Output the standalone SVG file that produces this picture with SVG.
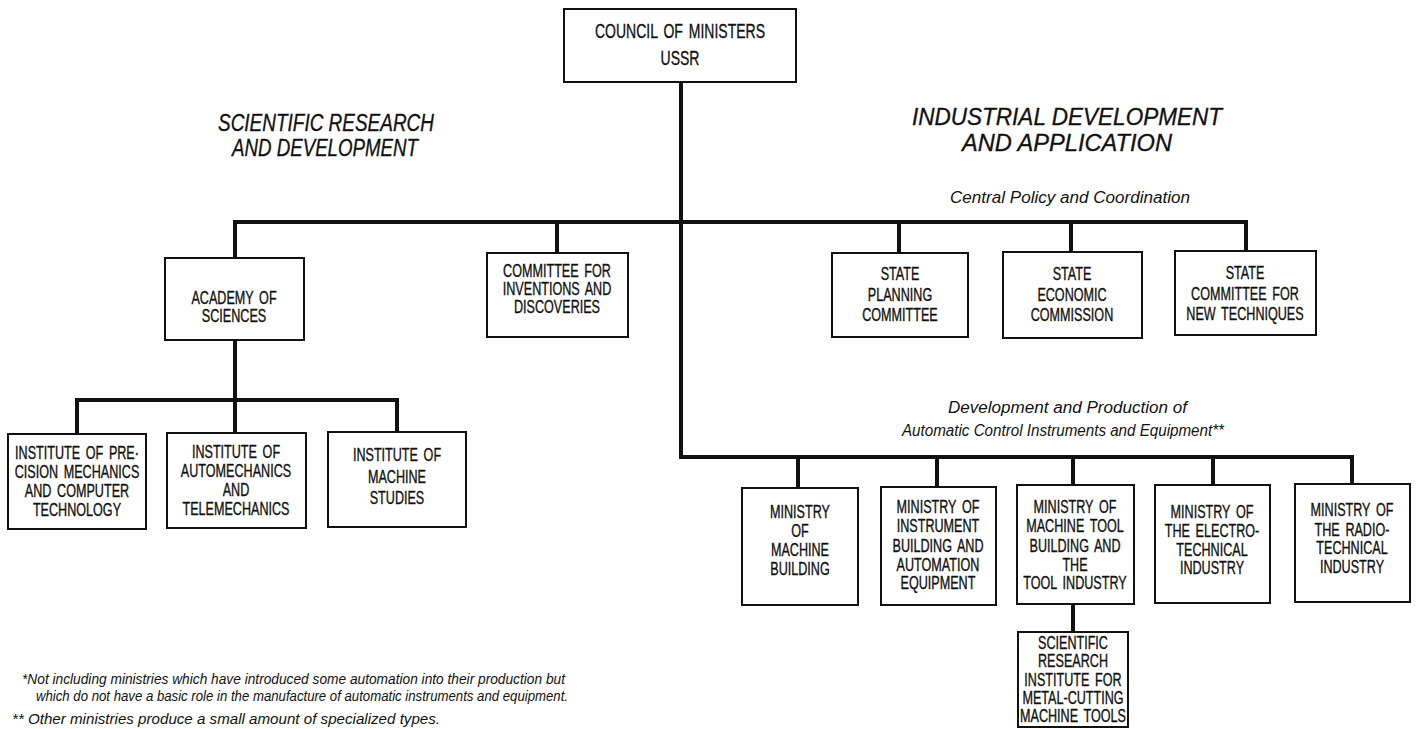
<svg xmlns="http://www.w3.org/2000/svg" width="1416" height="729" viewBox="0 0 1416 729">
<style>
.bx{fill:#fff;stroke:#111;stroke-width:2}
.ln{fill:none;stroke:#111;stroke-width:4;stroke-linecap:square;stroke-linejoin:miter}
.t{font-family:"Liberation Sans","Arial",sans-serif;font-size:17.5px;fill:#111;stroke:#111;stroke-width:0.35;text-anchor:middle;word-spacing:3px;transform-box:fill-box;transform-origin:center;transform:scaleX(0.72)}
.c{font-size:20px;transform:scaleX(0.7)}
.h{font-family:"Liberation Sans","DejaVu Sans",sans-serif;font-style:italic;font-size:23px;fill:#111;stroke:#111;stroke-width:0.3}
.s{font-family:"Liberation Sans","DejaVu Sans",sans-serif;font-style:italic;font-size:16px;fill:#111}
.f{font-family:"Liberation Sans","DejaVu Sans",sans-serif;font-style:italic;font-size:14px;fill:#111}
</style>
<rect width="1416" height="729" fill="#fff"/>
<g id="connectors">
<path class="ln" d="M681 82 V457 H1352"/>
<path class="ln" d="M235 258 V222 H1246 V251"/>
<path class="ln" d="M557 222 V253 M899 222 V253 M1071 222 V252"/>
<path class="ln" d="M235 340 V400 M77 433 V400 H397 V432 M235 400 V433"/>
<path class="ln" d="M798 457 V487 M937 457 V486 M1073 457 V485 M1213 457 V485 M1352 457 V484"/>
<path class="ln" d="M1073 604 V632"/>
</g>
<g id="headings">
<text class="h" x="218" y="131" textLength="216" lengthAdjust="spacingAndGlyphs">SCIENTIFIC RESEARCH</text>
<text class="h" x="232" y="156" textLength="186" lengthAdjust="spacingAndGlyphs">AND DEVELOPMENT</text>
<text class="h" x="912" y="125" textLength="310" lengthAdjust="spacingAndGlyphs">INDUSTRIAL DEVELOPMENT</text>
<text class="h" x="962" y="151" textLength="210" lengthAdjust="spacingAndGlyphs">AND APPLICATION</text>
<text class="s" x="950" y="203" textLength="240" lengthAdjust="spacingAndGlyphs">Central Policy and Coordination</text>
<text class="s" x="948" y="413" textLength="239" lengthAdjust="spacingAndGlyphs">Development and Production of</text>
<text class="s" x="902" y="436" textLength="322" lengthAdjust="spacingAndGlyphs">Automatic Control Instruments and Equipment**</text>
</g>
<g id="council">
<rect class="bx" x="564" y="9" width="232" height="73"/>
<text class="t c" x="680" y="38">COUNCIL OF MINISTERS</text>
<text class="t c" x="680" y="65">USSR</text>
</g>
<g id="academy">
<rect class="bx" x="165" y="258" width="139" height="82"/>
<text class="t" x="234" y="304">ACADEMY OF</text>
<text class="t" x="234" y="322">SCIENCES</text>
</g>
<g id="committee">
<rect class="bx" x="487" y="253" width="141" height="84"/>
<text class="t" x="557" y="277">COMMITTEE FOR</text>
<text class="t" x="557" y="295">INVENTIONS AND</text>
<text class="t" x="557" y="313">DISCOVERIES</text>
</g>
<g id="state-planning">
<rect class="bx" x="832" y="253" width="136" height="84"/>
<text class="t" x="900" y="280">STATE</text>
<text class="t" x="900" y="301">PLANNING</text>
<text class="t" x="900" y="321">COMMITTEE</text>
</g>
<g id="state-economic">
<rect class="bx" x="1003" y="252" width="139" height="86"/>
<text class="t" x="1072" y="280">STATE</text>
<text class="t" x="1072" y="301">ECONOMIC</text>
<text class="t" x="1072" y="321">COMMISSION</text>
</g>
<g id="state-techniques">
<rect class="bx" x="1175" y="251" width="141" height="84"/>
<text class="t" x="1245" y="279">STATE</text>
<text class="t" x="1245" y="300">COMMITTEE FOR</text>
<text class="t" x="1245" y="320">NEW TECHNIQUES</text>
</g>
<g id="inst-precision">
<rect class="bx" x="8" y="434" width="138" height="95"/>
<text class="t" x="77" y="459">INSTITUTE OF PRE·</text>
<text class="t" x="77" y="478">CISION MECHANICS</text>
<text class="t" x="77" y="497">AND COMPUTER</text>
<text class="t" x="77" y="516">TECHNOLOGY</text>
</g>
<g id="inst-automechanics">
<rect class="bx" x="167" y="433" width="139" height="95"/>
<text class="t" x="236" y="458">INSTITUTE OF</text>
<text class="t" x="236" y="477">AUTOMECHANICS</text>
<text class="t" x="236" y="496">AND</text>
<text class="t" x="236" y="515">TELEMECHANICS</text>
</g>
<g id="inst-machine">
<rect class="bx" x="328" y="432" width="138" height="95"/>
<text class="t" x="397" y="461">INSTITUTE OF</text>
<text class="t" x="397" y="483">MACHINE</text>
<text class="t" x="397" y="504">STUDIES</text>
</g>
<g id="min-machine">
<rect class="bx" x="742" y="488" width="116" height="117"/>
<text class="t" x="800" y="518">MINISTRY</text>
<text class="t" x="800" y="537">OF</text>
<text class="t" x="800" y="556">MACHINE</text>
<text class="t" x="800" y="575">BUILDING</text>
</g>
<g id="min-instrument">
<rect class="bx" x="881" y="487" width="115" height="118"/>
<text class="t" x="938" y="513">MINISTRY OF</text>
<text class="t" x="938" y="532">INSTRUMENT</text>
<text class="t" x="938" y="552">BUILDING AND</text>
<text class="t" x="938" y="571">AUTOMATION</text>
<text class="t" x="938" y="589">EQUIPMENT</text>
</g>
<g id="min-tool">
<rect class="bx" x="1017" y="485" width="117" height="119"/>
<text class="t" x="1075" y="513">MINISTRY OF</text>
<text class="t" x="1075" y="532">MACHINE TOOL</text>
<text class="t" x="1075" y="552">BUILDING AND</text>
<text class="t" x="1075" y="571">THE</text>
<text class="t" x="1075" y="589">TOOL INDUSTRY</text>
</g>
<g id="min-electro">
<rect class="bx" x="1155" y="485" width="115" height="118"/>
<text class="t" x="1212" y="518">MINISTRY OF</text>
<text class="t" x="1212" y="537">THE ELECTRO-</text>
<text class="t" x="1212" y="556">TECHNICAL</text>
<text class="t" x="1212" y="574">INDUSTRY</text>
</g>
<g id="min-radio">
<rect class="bx" x="1295" y="484" width="115" height="118"/>
<text class="t" x="1352" y="516">MINISTRY OF</text>
<text class="t" x="1352" y="536">THE RADIO-</text>
<text class="t" x="1352" y="554">TECHNICAL</text>
<text class="t" x="1352" y="573">INDUSTRY</text>
</g>
<g id="research-institute">
<rect class="bx" x="1018" y="632" width="110" height="95"/>
<text class="t" x="1073" y="649">SCIENTIFIC</text>
<text class="t" x="1073" y="667">RESEARCH</text>
<text class="t" x="1073" y="686">INSTITUTE FOR</text>
<text class="t" x="1073" y="704">METAL-CUTTING</text>
<text class="t" x="1073" y="722">MACHINE TOOLS</text>
</g>
<g id="footnotes">
<text class="f" x="22" y="684" textLength="543" lengthAdjust="spacingAndGlyphs">*Not including ministries which have introduced some automation into their production but</text>
<text class="f" x="36" y="701" textLength="532" lengthAdjust="spacingAndGlyphs">which do not have a basic role in the manufacture of automatic instruments and equipment.</text>
<text class="f" x="12" y="724" textLength="428" lengthAdjust="spacingAndGlyphs">** Other ministries produce a small amount of specialized types.</text>
</g>
</svg>
